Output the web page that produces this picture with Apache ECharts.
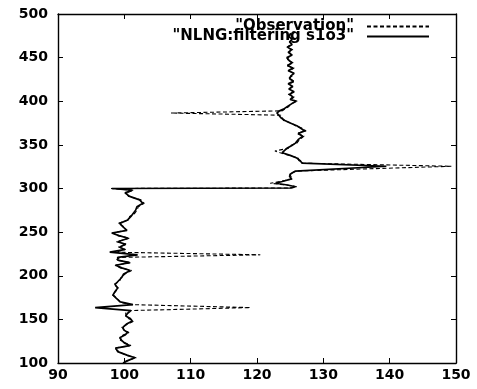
<!DOCTYPE html>
<html>
<head>
<meta charset="utf-8">
<script src="https://cdn.jsdelivr.net/npm/echarts@6/dist/echarts.min.js"></script>
<style>
html,body{margin:0;padding:0;background:#fff;}
#chart{width:477px;height:389px;}
</style>
</head>
<body>
<div id="chart"></div>
<script>
// ---- data (depth on vertical axis, value on horizontal axis) ----
var seriesNames = ['"Observation"', '"NLNG:filtering s1o3"'];
var xTicks = [90, 100, 110, 120, 130, 140, 150];
var yTicks = [100, 150, 200, 250, 300, 350, 400, 450, 500];

var lowerDepth = [
  100,103,106,109,113,117,120,123,126,129,
  132,135,138,141,145,148,151,154,157,160,
  163.5,167,170,174,178,182,186,190,194,198,
  202,206,209,212,215,218,221,224,227,230,
  233,236,239,243,246,249,252,256,260,264,
  268,271,275,279,283,287,291,295,298,300
];
var lowerObs = [
  99.9,100.4,101.8,100.2,99.2,98.5,101.0,100.2,99.4,99.5,
  99.8,100.7,100.0,99.6,100.6,101.4,100.6,100.3,100.2,100.5,
  119.0,100.8,99.3,98.9,98.2,98.7,99.1,98.4,99.3,99.5,
  100.1,101.1,99.4,98.6,101.0,98.8,99.3,120.5,98.6,100.2,
  99.1,100.4,98.8,100.8,99.0,98.3,100.2,100.0,99.1,100.7,
  100.8,101.5,101.9,102.1,103.0,102.5,100.6,100.3,101.4,98.0
];
var lowerFilt = [
  99.8,100.6,101.6,100.4,99.0,98.7,100.8,100.0,99.6,99.3,
  100.1,100.5,99.9,99.8,100.4,101.2,100.9,100.2,100.5,101.0,
  95.6,101.3,99.4,98.8,98.3,98.6,99.0,98.6,99.1,99.6,
  99.9,100.9,99.6,98.7,100.8,99.0,99.0,102.0,97.8,100.0,
  99.3,100.2,99.0,100.6,99.2,98.1,100.4,99.8,99.3,100.5,
  101.0,101.3,101.7,101.9,102.8,102.3,100.8,100.1,101.2,98.1
];

var upperDepth = [
  300.6,302,304,306,308,311,314,317,320,322,
  325.5,329,332,335,338,341,343,346,349,352,
  356,360,363,366,369,372,375,378,381,384,
  386.5,389,391,394,397,400,402,405,408,411,
  414,417,420,423,426,429,432,435,438,441,
  444,447,450,453,456,459,462,465,468,471,
  474,478
];
var upperObs = [
  125.2,126.0,124.4,122.0,123.5,125.4,125.1,124.9,126.0,125.8,
  149.3,127.0,126.3,126.2,124.8,123.5,122.7,124.7,125.0,126.0,
  126.4,127.1,126.0,127.4,126.8,125.8,125.2,124.0,123.8,123.6,
  107.0,123.8,124.2,124.8,125.0,126.1,125.2,125.6,124.7,125.4,
  125.0,125.2,124.9,125.7,124.7,125.3,125.4,124.9,125.6,124.4,
  125.5,124.6,124.7,125.1,124.9,125.4,124.5,125.1,125.1,125.2,
  124.9,125.0
];
var upperFilt = [
  125.0,125.8,124.6,122.8,123.8,125.2,124.9,125.1,125.8,125.6,
  139.5,126.8,126.5,126.0,125.0,123.8,123.5,124.5,125.2,125.8,
  126.2,126.9,126.2,127.2,126.6,126.0,125.0,124.2,123.6,123.3,
  123.0,123.4,124.0,124.6,125.2,125.9,125.0,125.4,124.9,125.6,
  124.8,125.4,124.7,125.5,124.9,125.1,125.6,124.7,125.4,124.6,
  125.3,124.8,124.5,125.3,124.7,125.2,124.6,125.3,124.9,125.3,
  124.8,125.1
];

// ---- build ----
var depth = lowerDepth.concat(upperDepth);
var obsX = lowerObs.concat(upperObs);
var filtX = lowerFilt.concat(upperFilt);
function pairs(xs){ return depth.map(function(d,i){ return [xs[i], d]; }); }

var FONT = 'DejaVu Sans';
var labelStyle = {color:'#000', fontFamily:FONT, fontWeight:'bold', fontSize:14};
var axisLine = {show:true, lineStyle:{color:'#000', width:1.4}};
var tickIn = {show:true, inside:true, length:5, lineStyle:{color:'#000', width:1}};

var chart = echarts.init(document.getElementById('chart'), null, {renderer:'canvas'});
chart.setOption({
  animation:false,
  backgroundColor:'#fff',
  grid:{left:58, right:21, top:14, bottom:26, containLabel:false},
  legend:{
    data:seriesNames,
    orient:'vertical',
    align:'right',
    right:47, top:19,
    padding:0,
    itemGap:-5,
    itemWidth:62, itemHeight:10,
    itemStyle:{opacity:0},
    textStyle:{color:'#000', fontFamily:FONT, fontWeight:'bold', fontSize:15, lineHeight:14, padding:[0,8,0,0]}
  },
  xAxis:[
    {type:'value', position:'bottom', min:xTicks[0], max:xTicks[xTicks.length-1], interval:10,
     axisLine:axisLine, axisTick:tickIn, splitLine:{show:false},
     axisLabel:Object.assign({margin:5}, labelStyle)},
    {type:'value', position:'top', min:xTicks[0], max:xTicks[xTicks.length-1], interval:10,
     axisLine:axisLine, axisTick:tickIn, splitLine:{show:false}, axisLabel:{show:false}}
  ],
  yAxis:[
    {type:'value', position:'left', min:yTicks[0], max:yTicks[yTicks.length-1], interval:50,
     axisLine:axisLine, axisTick:tickIn, splitLine:{show:false},
     axisLabel:Object.assign({margin:10}, labelStyle)},
    {type:'value', position:'right', min:yTicks[0], max:yTicks[yTicks.length-1], interval:50,
     axisLine:axisLine, axisTick:tickIn, splitLine:{show:false}, axisLabel:{show:false}}
  ],
  series:[
    {name:seriesNames[0], type:'line', xAxisIndex:0, yAxisIndex:0, data:pairs(obsX),
     symbol:'none', showSymbol:false,
     lineStyle:{color:'#000', width:1.1, type:[4,2.5]}, itemStyle:{color:'#000'}, z:2},
    {name:seriesNames[1], type:'line', xAxisIndex:0, yAxisIndex:0, data:pairs(filtX),
     symbol:'none', showSymbol:false,
     lineStyle:{color:'#000', width:1.7}, itemStyle:{color:'#000'}, z:3}
  ]
});
</script>
</body>
</html>
